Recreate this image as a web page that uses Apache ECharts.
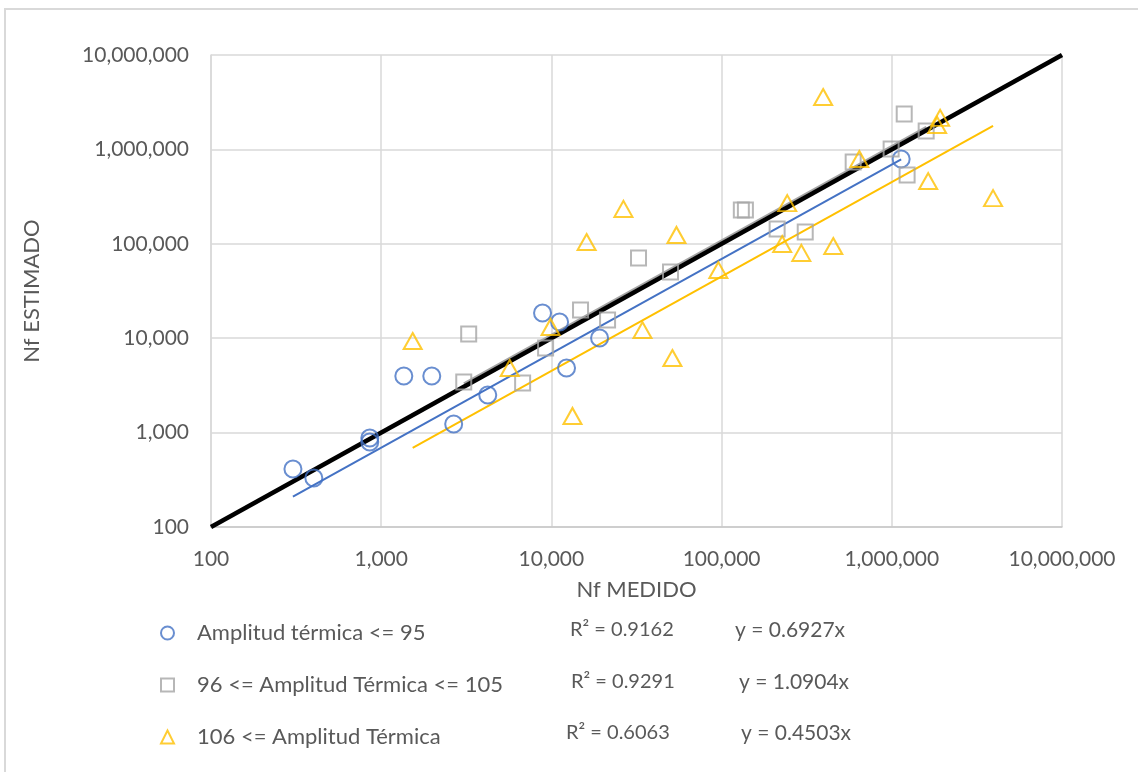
<!DOCTYPE html>
<html>
<head>
<meta charset="utf-8">
<script src="https://cdn.jsdelivr.net/npm/echarts@6/dist/echarts.min.js"></script>
<style>html,body{margin:0;padding:0;background:#fff}#c{width:1138px;height:772px}</style>
</head>
<body>
<div id="c"></div>
<script>
// ---- Data ----
const seriesNames = ['Amplitud térmica <= 95', '96 <= Amplitud Térmica <= 105', '106 <= Amplitud Térmica'];
const r2Labels = ['R² = 0.9162', 'R² = 0.9291', 'R² = 0.6063'];
const eqLabels = ['y = 0.6927x', 'y = 1.0904x', 'y = 0.4503x'];
const trendSlopes = [0.6927, 1.0904, 0.4503];

const blueX = [303, 402, 857, 857, 1358, 1982, 2666, 4227, 8870, 11170, 12270, 19190, 1135000];
const blueY = [411, 330, 877, 795, 3981, 3981, 1234, 2500, 18500, 14860, 4830, 10050, 790000];

const greyX = [3055, 3266, 6774, 9245, 14830, 21380, 32500, 50100, 130600, 138000, 212000, 310000, 593000, 991000, 1183000, 1230000, 1592000];
const greyY = [3436, 11070, 3350, 7870, 19900, 15600, 70800, 50200, 228000, 228000, 143600, 133400, 736000, 1010000, 2371000, 536000, 1567000];

const yellowX = [1531, 5690, 9890, 13300, 16100, 26500, 34300, 51400, 54300, 95700, 227000, 243000, 294000, 395000, 453000, 644000, 1636000, 1846000, 1923000, 3935000];
const yellowY = [9330, 4830, 13150, 1500, 104500, 234000, 12200, 6170, 124000, 52700, 99500, 270000, 80000, 3590000, 94800, 791000, 462000, 1812000, 2155000, 305000];

const identityLine = [100, 10000000];
const axisMin = 100, axisMax = 10000000;
const xAxisName = 'Nf MEDIDO';
const yAxisName = 'Nf ESTIMADO';

// ---- Build ----
const colors = ['#4472C4', '#A5A5A5', '#FFC000'];
const symbols = ['circle', 'rect', 'triangle'];
const symbolSizes = [17, 15, [18, 16]];
const xs = [blueX, greyX, yellowX];
const ys = [blueY, greyY, yellowY];
const FONT = 'Lato';
const TXT = '#595959';

const pairs = (a, b) => a.map((v, i) => [v, b[i]]);
function trend(i) {
  const lo = Math.min(...xs[i]), hi = Math.max(...xs[i]);
  return [[lo, lo * trendSlopes[i]], [hi, hi * trendSlopes[i]]];
}

const series = [];
series.push({type: 'line', data: trend(1), symbol: 'none', silent: true, z: 2,
  lineStyle: {color: colors[1], width: 2}});
series.push({type: 'line', data: identityLine.map(v => [v, v]), symbol: 'none', silent: true, z: 3,
  lineStyle: {color: '#000', width: 4.5}});
series.push({type: 'line', data: trend(0), symbol: 'none', silent: true, z: 3,
  lineStyle: {color: colors[0], width: 2}});
series.push({type: 'line', data: trend(2), symbol: 'none', silent: true, z: 3,
  lineStyle: {color: colors[2], width: 2}});
for (let i = 0; i < 3; i++) {
  series.push({
    name: seriesNames[i], type: 'scatter', z: 4,
    symbol: symbols[i], symbolSize: symbolSizes[i],
    data: pairs(xs[i], ys[i]),
    itemStyle: {color: 'rgba(0,0,0,0)', borderColor: colors[i], borderWidth: 2}
  });
}

const rowPitch = 52;
const graphic = [
  {type: 'rect', shape: {x: 5, y: 9, width: 1300, height: 900}, style: {fill: 'none', stroke: '#D9D9D9', lineWidth: 2}, silent: true}
];
const r2X = [570, 571, 566];
const eqX = [735, 739, 741];
for (let i = 0; i < 3; i++) {
  const cy = 633 + i * rowPitch + (i === 2 ? -1 : 0);
  graphic.push({type: 'text', left: r2X[i], top: cy - 13,
    style: {text: r2Labels[i], font: '20px ' + FONT, fill: TXT}});
  graphic.push({type: 'text', left: eqX[i], top: cy - 13,
    style: {text: eqLabels[i], font: '21px ' + FONT, fill: TXT}});
}

const chart = echarts.init(document.getElementById('c'));
chart.setOption({
  animation: false,
  backgroundColor: '#fff',
  grid: {left: 211, top: 55, width: 851, height: 472, containLabel: false},
  xAxis: {
    type: 'log', logBase: 10, min: axisMin, max: axisMax,
    name: xAxisName, nameLocation: 'middle', nameGap: 52,
    nameTextStyle: {color: TXT, fontSize: 22, fontFamily: FONT},
    axisLine: {show: true, lineStyle: {color: '#C8C8C8', width: 1.5}},
    axisTick: {show: false},
    axisLabel: {color: TXT, fontSize: 21, fontFamily: FONT, margin: 22,
      formatter: v => Math.round(v).toLocaleString('en-US')},
    splitLine: {show: true, lineStyle: {color: '#D9D9D9', width: 1.5}},
    minorTick: {show: false}, minorSplitLine: {show: false}
  },
  yAxis: {
    type: 'log', logBase: 10, min: axisMin, max: axisMax,
    name: yAxisName, nameLocation: 'middle', nameGap: 168,
    nameTextStyle: {color: TXT, fontSize: 22, fontFamily: FONT},
    axisLine: {show: true, lineStyle: {color: '#D9D9D9', width: 1.5}},
    axisTick: {show: false},
    axisLabel: {color: TXT, fontSize: 21, fontFamily: FONT, margin: 22,
      formatter: v => Math.round(v).toLocaleString('en-US')},
    splitLine: {show: true, lineStyle: {color: '#D9D9D9', width: 1.5}}
  },
  legend: {
    orient: 'vertical', left: 155, top: 617,
    itemWidth: 13, itemHeight: 13, itemGap: 30,
    symbolKeepAspect: true,
    textStyle: {color: TXT, fontSize: 22, fontFamily: FONT, lineHeight: 22, padding: [0, 0, 0, 18]},
    selectedMode: false,
    data: seriesNames.map((n, i) => ({
      name: n, icon: symbols[i],
      itemStyle: {color: 'rgba(0,0,0,0)', borderColor: colors[i], borderWidth: 2}
    }))
  },
  graphic: graphic,
  series: series
});
</script>
</body>
</html>
